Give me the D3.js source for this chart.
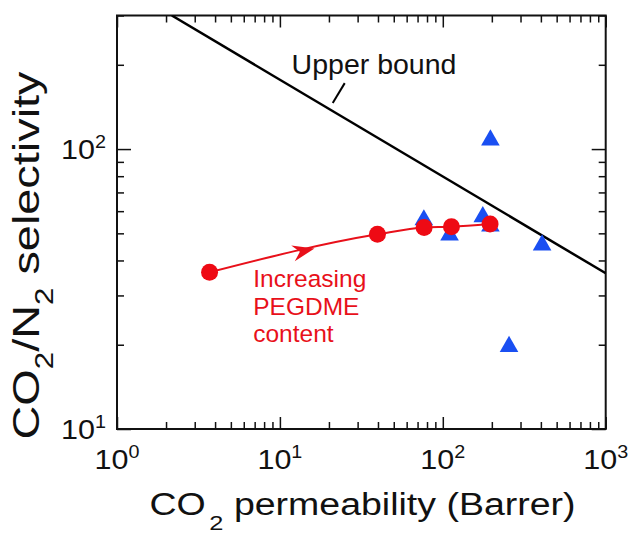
<!DOCTYPE html>
<html>
<head>
<script src="https://d3js.org/d3.v7.min.js"></script>
<style>
  body { margin: 0; background: #fff; }
  text { font-family: "Liberation Sans", Arial, sans-serif; }
  .tick line { stroke: #111; stroke-width: 1.5px; }
</style>
</head>
<body>
<div id="div"></div>
<script>
// PEGDME membranes (red circles), other membranes (blue triangles)
let pegPerm = [3.7, 39.7, 76.8, 113, 195];
let pegSel = [36.3, 49.6, 52.5, 52.8, 54];
let otherPerm = [196, 76.5, 110, 176, 196, 407, 255];
let otherSel = [107.7, 55.8, 49.3, 57.3, 53, 45.4, 19.7];
// Robeson upper bound, end points
let boundPerm = [2.17, 1000];
let boundSel = [300, 36];
// major ticks
let xMajor = [1, 10, 100, 1000];
let yMajor = [10, 100];

let margin = {top: 15.5, right: 22.3, bottom: 105, left: 117},
    width = 628 - margin.left - margin.right,
    height = 534 - margin.top - margin.bottom;

let x = d3.scaleLog().domain([1, 1000]).range([0, width]);
let y = d3.scaleLog().domain([10, 300]).range([height, 0]);

let svg = d3.select("#div").append("svg")
    .attr("width", 628)
    .attr("height", 534)
    .append("g")
    .attr("transform", "translate(" + margin.left + "," + margin.top + ")");

svg.append("defs").append("clipPath")
    .attr("id", "clip")
    .append("rect")
    .attr("width", width)
    .attr("height", height);

let isMajor = v => Math.abs(Math.log10(v) - Math.round(Math.log10(v))) < 1e-9;
let xMinor = x.ticks().filter(v => !isMajor(v));
let yMinor = y.ticks().filter(v => !isMajor(v));
let noDomain = g => g.select(".domain").remove();

// inward ticks on all four sides
svg.append("g").attr("transform", "translate(0," + height + ")")
    .call(d3.axisBottom(x).tickValues(xMajor).tickSize(-12).tickFormat("")).call(noDomain);
svg.append("g").attr("transform", "translate(0," + height + ")")
    .call(d3.axisBottom(x).tickValues(xMinor).tickSize(-7).tickFormat("")).call(noDomain);
svg.append("g")
    .call(d3.axisTop(x).tickValues(xMajor).tickSize(-12).tickFormat("")).call(noDomain);
svg.append("g")
    .call(d3.axisTop(x).tickValues(xMinor).tickSize(-7).tickFormat("")).call(noDomain);
svg.append("g")
    .call(d3.axisLeft(y).tickValues(yMajor).tickSize(-14).tickFormat("")).call(noDomain);
svg.append("g")
    .call(d3.axisLeft(y).tickValues(yMinor).tickSize(-7).tickFormat("")).call(noDomain);
svg.append("g").attr("transform", "translate(" + width + ",0)")
    .call(d3.axisRight(y).tickValues(yMajor).tickSize(-14).tickFormat("")).call(noDomain);
svg.append("g").attr("transform", "translate(" + width + ",0)")
    .call(d3.axisRight(y).tickValues(yMinor).tickSize(-7).tickFormat("")).call(noDomain);

svg.append("rect")
    .attr("width", width)
    .attr("height", height)
    .attr("fill", "none")
    .attr("stroke", "#111")
    .attr("stroke-width", 2);

// tick labels 10^n
function powLabel(sel, v) {
    sel.append("tspan").text("10");
    sel.append("tspan").attr("dy", -11).attr("font-size", 17.5).text(Math.round(Math.log10(v)));
}
xMajor.forEach(v => {
    let t = svg.append("text")
        .attr("transform", "translate(" + x(v) + "," + (height + 40) + ") scale(1.13,1)")
        .attr("text-anchor", "middle")
        .attr("font-size", 27)
        .attr("fill", "#111");
    powLabel(t, v);
});
yMajor.forEach(v => {
    let t = svg.append("text")
        .attr("transform", "translate(-11," + (y(v) + 10) + ") scale(1.13,1)")
        .attr("text-anchor", "end")
        .attr("font-size", 27)
        .attr("fill", "#111");
    powLabel(t, v);
});

// axis titles
let xt = svg.append("text")
    .attr("transform", "translate(" + (362.5 - margin.left) + "," + (515 - margin.top) + ") scale(1.21,1)")
    .attr("text-anchor", "middle")
    .attr("font-size", 31)
    .attr("fill", "#111");
xt.append("tspan").text("CO");
xt.append("tspan").attr("dx", 3).attr("dy", 15).attr("font-size", 21).text("2");
xt.append("tspan").attr("dy", -15).text(" permeability (Barrer)");

let yt = svg.append("text")
    .attr("transform", "translate(" + (39 - margin.left) + "," + (255.5 - margin.top) + ") rotate(-90) scale(1.25,1)")
    .attr("text-anchor", "middle")
    .attr("font-size", 37.5)
    .attr("fill", "#111");
yt.append("tspan").text("CO");
yt.append("tspan").attr("dy", 14).attr("font-size", 25).text("2");
yt.append("tspan").attr("dy", -14).text("/N");
yt.append("tspan").attr("dy", 14).attr("font-size", 25).text("2");
yt.append("tspan").attr("dy", -14).text(" selectivity");

// upper bound line
let bound = boundPerm.map((p, i) => [x(p), y(boundSel[i])]);
svg.append("path")
    .attr("clip-path", "url(#clip)")
    .attr("d", d3.line()(bound))
    .attr("fill", "none")
    .attr("stroke", "#000")
    .attr("stroke-width", 2.5);

svg.append("text")
    .attr("x", x(11.8))
    .attr("y", y(185))
    .attr("font-size", 28.5)
    .attr("fill", "#111")
    .text("Upper bound");
svg.append("line")
    .attr("x1", x(25)).attr("y1", y(172))
    .attr("x2", x(21.1)).attr("y2", y(146))
    .attr("stroke", "#000")
    .attr("stroke-width", 2);

// blue triangles
svg.selectAll(".tri")
    .data(otherPerm)
    .enter()
    .append("path")
    .attr("class", "tri")
    .attr("d", d3.symbol().type(d3.symbolTriangle).size(150))
    .attr("transform", (d, i) => "translate(" + x(d) + "," + y(otherSel[i]) + ")")
    .attr("fill", "#1a4ff2");

// red PEGDME series
let pts = pegPerm.map((p, i) => [x(p), y(pegSel[i])]);
svg.append("path")
    .attr("d", d3.line().curve(d3.curveMonotoneX)(pts))
    .attr("fill", "none")
    .attr("stroke", "#e8101a")
    .attr("stroke-width", 2);

let f = 0.625;
let tip = [pts[0][0] + f * (pts[1][0] - pts[0][0]), pts[0][1] + f * (pts[1][1] - pts[0][1])];
let ang = Math.atan2(pts[1][1] - pts[0][1], pts[1][0] - pts[0][0]) * 180 / Math.PI;
svg.append("path")
    .attr("d", "M0,0L-22,-8L-15,0L-22,8Z")
    .attr("transform", "translate(" + tip[0] + "," + tip[1] + ") rotate(" + ang + ")")
    .attr("fill", "#e8101a");

svg.selectAll(".dot")
    .data(pts)
    .enter()
    .append("circle")
    .attr("class", "dot")
    .attr("cx", d => d[0])
    .attr("cy", d => d[1])
    .attr("r", 8.5)
    .attr("fill", "#ee0a14");

let note = svg.append("text")
    .attr("x", x(6.86))
    .attr("y", y(32.1))
    .attr("font-size", 24.5)
    .attr("fill", "#e8101a");
["Increasing", "PEGDME", "content"].forEach((s, i) => {
    note.append("tspan").attr("x", x(6.86)).attr("dy", i ? 27.5 : 0).text(s);
});
</script>
</body>
</html>
